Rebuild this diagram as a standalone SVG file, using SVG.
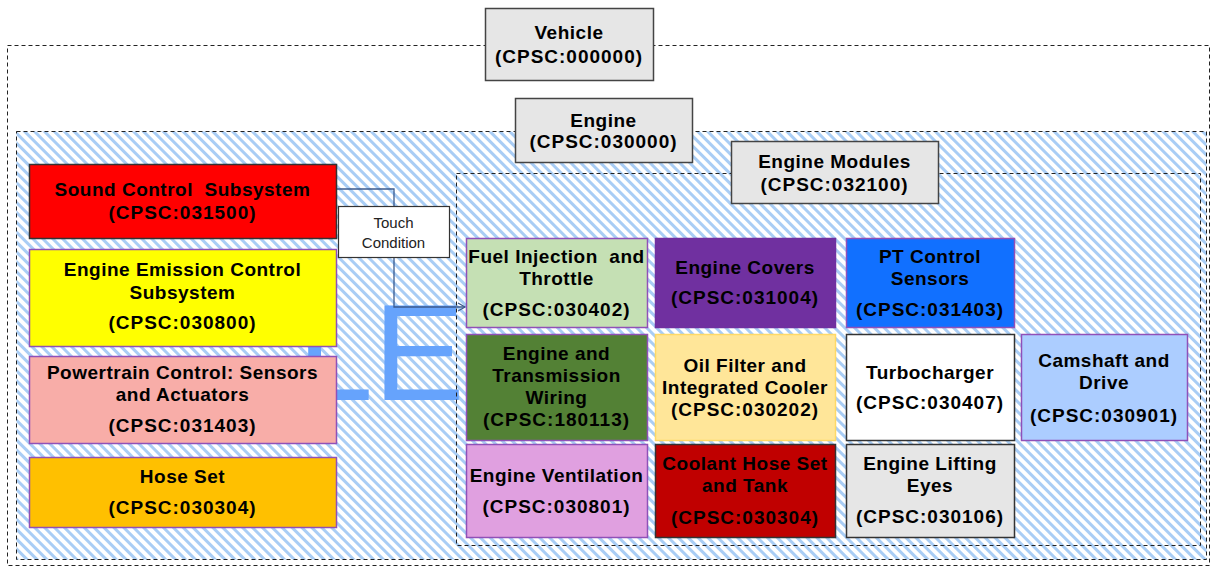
<svg xmlns="http://www.w3.org/2000/svg" width="1213" height="567" viewBox="0 0 1213 567">
<defs>
<pattern id="hatch" width="7" height="7" patternUnits="userSpaceOnUse" patternTransform="rotate(-45)">
<rect width="7" height="7" fill="#ffffff"/>
<rect x="0" y="0" width="3" height="7" fill="#a9cdf5"/>
</pattern>
<marker id="arr" markerWidth="10" markerHeight="10" refX="8" refY="5" orient="auto" markerUnits="userSpaceOnUse">
<path d="M1,1 L8,5 L1,9" fill="none" stroke="#3b5b8f" stroke-width="1.3"/>
</marker>
</defs>
<style>
.t{font-family:"Liberation Sans",Arial,sans-serif;font-weight:bold;font-size:19px;letter-spacing:0.5px;fill:#000;text-anchor:middle}
.c{letter-spacing:1px}
.lbl{font-family:"Liberation Sans",Arial,sans-serif;font-size:15px;fill:#222;text-anchor:middle}
.dash{fill:none;stroke:#222;stroke-width:1;stroke-dasharray:4 3}
.g{fill:#e6e6e6;stroke:#444;stroke-width:1.5}
.p{stroke:#9050b8;stroke-width:1.5}
.k{stroke:#333;stroke-width:1.5}
</style>
<rect width="1213" height="567" fill="#ffffff"/>
<g id="vehicle-container"><rect x="7.5" y="45.5" width="1202" height="520" class="dash" fill="#fff"/></g>
<g id="engine-container"><rect x="16.5" y="131.5" width="1190" height="428" fill="url(#hatch)"/><rect x="16.5" y="131.5" width="1190" height="428" class="dash"/></g>
<text x="297" y="400" font-family="'Liberation Sans',Arial,sans-serif" font-size="137" fill="#66a3fc">LE</text>
<g id="vehicle"><rect x="485.5" y="8.5" width="168" height="72" class="g"/><text class="t" x="569" y="39">Vehicle</text><text class="t c" x="569" y="63">(CPSC:000000)</text></g>
<g id="engine"><rect x="515.5" y="98.5" width="177" height="64" class="g"/><text class="t" x="603.5" y="127">Engine</text><text class="t c" x="603.5" y="148">(CPSC:030000)</text></g>
<g id="modules-container"><rect x="456.5" y="173.5" width="744" height="372" class="dash"/></g>
<g id="engine-modules"><rect x="731.5" y="141.5" width="207" height="62" class="g"/><text class="t" x="834.5" y="168">Engine Modules</text><text class="t c" x="834.5" y="191">(CPSC:032100)</text></g>
<g id="connectors"><path d="M336,189 H394 V307 H465" fill="none" stroke="#3b5b8f" stroke-width="1.3" marker-end="url(#arr)"/></g>
<g id="touch-label"><rect x="338.5" y="206.5" width="111" height="51" fill="#fff" stroke="#333" stroke-width="1.2"/><text class="lbl" x="393.5" y="227.5">Touch</text><text class="lbl" x="393.5" y="247.5">Condition</text></g>
<g id="sound"><rect x="29.5" y="164.5" width="307" height="74" fill="#ff0000" class="k"/><text class="t" x="182.5" y="196" xml:space="preserve">Sound Control  Subsystem</text><text class="t c" x="182.5" y="219">(CPSC:031500)</text></g>
<g id="emission"><rect x="29.5" y="249.5" width="307" height="97" fill="#ffff00" class="p"/><text class="t" x="182.5" y="276">Engine Emission Control</text><text class="t" x="182.5" y="299">Subsystem</text><text class="t c" x="182.5" y="329">(CPSC:030800)</text></g>
<g id="powertrain"><rect x="29.5" y="356.5" width="307" height="87" fill="#f8ada8" class="p"/><text class="t" x="182.5" y="379">Powertrain Control: Sensors</text><text class="t" x="182.5" y="401">and Actuators</text><text class="t c" x="182.5" y="432">(CPSC:031403)</text></g>
<g id="hose"><rect x="29.5" y="457.5" width="307" height="70" fill="#ffc000" class="p"/><text class="t" x="182.5" y="483">Hose Set</text><text class="t c" x="182.5" y="514">(CPSC:030304)</text></g>
<g id="fuel"><rect x="466.5" y="238.5" width="181" height="89" fill="#c5e0b4" class="p"/><text class="t" x="556.5" y="263" xml:space="preserve">Fuel Injection  and</text><text class="t" x="556.5" y="285">Throttle</text><text class="t c" x="556.5" y="316">(CPSC:030402)</text></g>
<g id="covers"><rect x="655.5" y="238.5" width="180" height="89" fill="#7030a0" stroke="#7030a0" stroke-width="1.5"/><text class="t" x="745" y="274">Engine Covers</text><text class="t c" x="745" y="304">(CPSC:031004)</text></g>
<g id="pt-control"><rect x="846.5" y="238.5" width="168" height="89" fill="#1170ff" class="p"/><text class="t" x="930" y="263">PT Control</text><text class="t" x="930" y="285">Sensors</text><text class="t c" x="930" y="316">(CPSC:031403)</text></g>
<g id="wiring"><rect x="466.5" y="334.5" width="181" height="106" fill="#538135" class="p"/><text class="t" x="556.5" y="360">Engine and</text><text class="t" x="556.5" y="382">Transmission</text><text class="t" x="556.5" y="404">Wiring</text><text class="t c" x="556.5" y="426">(CPSC:180113)</text></g>
<g id="oil-filter"><rect x="655.5" y="334.5" width="180" height="106" fill="#ffe699" stroke="#ffd966" stroke-width="1.5"/><text class="t" x="745" y="372">Oil Filter and</text><text class="t" x="745" y="394">Integrated Cooler</text><text class="t c" x="745" y="416">(CPSC:030202)</text></g>
<g id="turbo"><rect x="846.5" y="334.5" width="168" height="106" fill="#ffffff" class="k"/><text class="t" x="930" y="379">Turbocharger</text><text class="t c" x="930" y="409">(CPSC:030407)</text></g>
<g id="camshaft"><rect x="1021.5" y="334.5" width="166" height="106" fill="#accdff" class="p"/><text class="t" x="1104" y="367">Camshaft and</text><text class="t" x="1104" y="389">Drive</text><text class="t c" x="1104" y="422">(CPSC:030901)</text></g>
<g id="ventilation"><rect x="466.5" y="444.5" width="181" height="93" fill="#e0a0e0" class="p"/><text class="t" x="556.5" y="482">Engine Ventilation</text><text class="t c" x="556.5" y="513">(CPSC:030801)</text></g>
<g id="coolant"><rect x="655.5" y="444.5" width="180" height="93" fill="#c00000" class="k"/><text class="t" x="745" y="470">Coolant Hose Set</text><text class="t" x="745" y="492">and Tank</text><text class="t c" x="745" y="524">(CPSC:030304)</text></g>
<g id="lifting"><rect x="846.5" y="444.5" width="168" height="93" fill="#e6e6e6" class="k"/><text class="t" x="930" y="470">Engine Lifting</text><text class="t" x="930" y="492">Eyes</text><text class="t c" x="930" y="523">(CPSC:030106)</text></g>
</svg>
